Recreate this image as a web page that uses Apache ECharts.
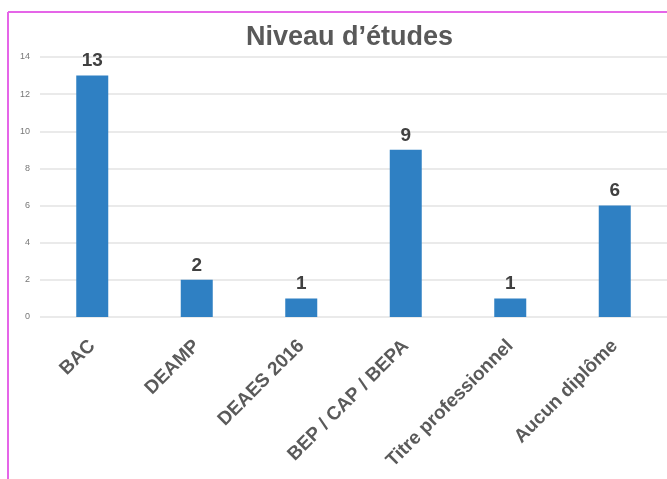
<!DOCTYPE html>
<html>
<head>
<meta charset="utf-8">
<script src="https://cdn.jsdelivr.net/npm/echarts@6/dist/echarts.min.js"></script>
<style>
  html, body { margin: 0; padding: 0; background: #fff; }
  #chart { width: 667px; height: 479px; }
</style>
</head>
<body>
<div id="chart"></div>
<script>
var categories = ['BAC', 'DEAMP', 'DEAES 2016', 'BEP / CAP / BEPA', 'Titre professionnel', 'Aucun diplôme'];
var counts = [13, 2, 1, 9, 1, 6];
var yTicks = { min: 0, max: 14, step: 2 };

var myChart = echarts.init(document.getElementById('chart'));

var option = {
    animation: false,
    textStyle: { fontFamily: 'Liberation Sans, Arial, sans-serif' },
    title: {
        text: 'Niveau d\u2019études',
        left: 241,
        top: 19,
        textStyle: { fontSize: 27, fontWeight: 'bold', color: '#595959' }
    },
    graphic: [
        { type: 'line', shape: { x1: 8, y1: 12, x2: 667, y2: 12 }, style: { stroke: '#e565e8', lineWidth: 2 } },
        { type: 'line', shape: { x1: 8, y1: 12, x2: 8, y2: 479 }, style: { stroke: '#e565e8', lineWidth: 2 } }
    ],
    grid: { left: 40, right: 0, top: 57, bottom: 162 },
    xAxis: {
        type: 'category',
        data: categories,
        axisLine: { show: false },
        axisTick: { show: false },
        axisLabel: {
            rotate: 45,
            interval: 0,
            margin: 26,
            fontSize: 19,
            fontWeight: 'bold',
            color: '#5a5a5a'
        }
    },
    yAxis: {
        type: 'value',
        min: yTicks.min,
        max: yTicks.max,
        interval: yTicks.step,
        axisLine: { show: false },
        axisTick: { show: false },
        axisLabel: { fontSize: 9, color: '#777', margin: 10 },
        splitLine: { lineStyle: { color: '#e3e3e3', width: 1.5 } }
    },
    series: [{
        type: 'bar',
        data: counts,
        barWidth: 32,
        itemStyle: { color: '#2f80c3' },
        label: {
            show: true,
            position: 'top',
            distance: 5,
            fontSize: 19,
            fontWeight: 'bold',
            color: '#404040'
        }
    }]
};

myChart.setOption(option);
</script>
</body>
</html>
